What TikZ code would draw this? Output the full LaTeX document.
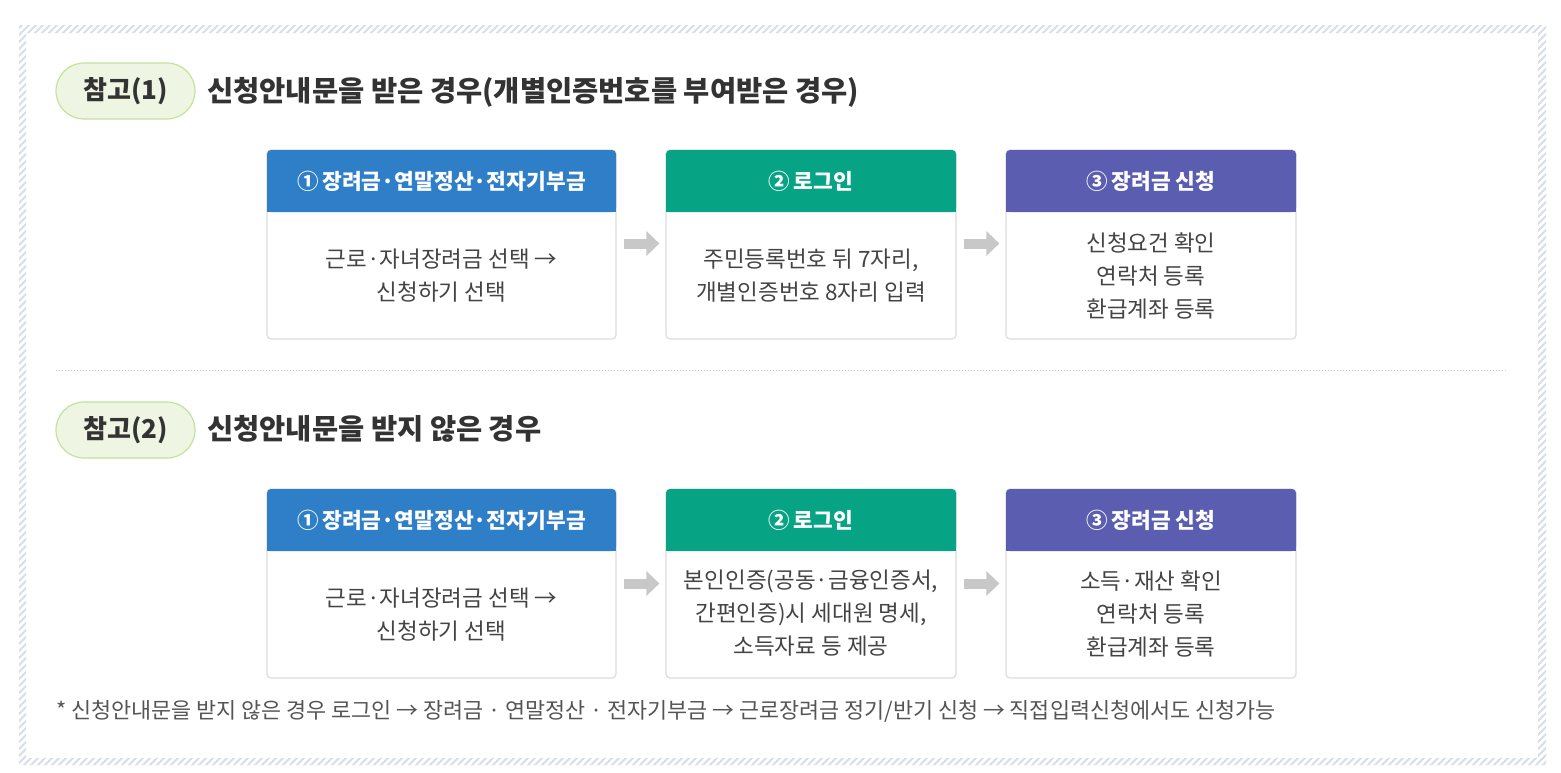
\documentclass[tikz,border=0pt]{standalone}
\usepackage{fontspec}
\setmainfont{Noto Sans CJK KR}
\usetikzlibrary{arrows.meta}
\definecolor{hatchc}{HTML}{D9DDE8}
\definecolor{hblue}{HTML}{2E7EC8}
\definecolor{hgreen}{HTML}{06A384}
\definecolor{hpurple}{HTML}{5A5DB0}
\definecolor{boxgray}{HTML}{DCDCDC}
\definecolor{txtgray}{HTML}{444444}
\definecolor{titlec}{HTML}{333333}
\definecolor{notec}{HTML}{555555}
\definecolor{pillfill}{HTML}{EEF6E3}
\definecolor{pilldraw}{HTML}{C4E29A}
\definecolor{arrowc}{HTML}{C8C8C8}
\definecolor{sepc}{HTML}{CCCCCC}
\tikzset{
  boxout/.style={draw=boxgray, line width=1.2pt, rounded corners=4pt, fill=white, inner sep=0pt},
  hdr/.style={minimum height=62pt, inner sep=0pt, rounded corners=4pt},
  hdrtxt/.style={text=white, inner sep=0pt, font=\bfseries\fontsize{21.5}{24}\selectfont},
  bodytxt/.style={align=center, text=txtgray, font=\fontsize{22.5}{33}\selectfont, inner sep=0pt},
  pill/.style={draw=pilldraw, fill=pillfill, line width=1.2pt, rounded corners=28pt, minimum width=139pt, minimum height=56pt, inner sep=0pt, text=titlec, font=\bfseries\fontsize{26}{30}\selectfont},
  ttl/.style={anchor=west, inner sep=0pt, text=titlec, font=\bfseries\fontsize{28.5}{32}\selectfont},
  flow/.style={arrowc, line width=10pt, -{Triangle[length=13pt,width=24pt]}},
  hatchline/.style={hatchc, line width=2pt}
}
\begin{document}
\begin{tikzpicture}[x=1pt,y=-1pt]
\useasboundingbox (0,0) rectangle (1561,772);
\fill[white] (0,0) rectangle (1561,772);
% hatched frame
\begin{scope}[even odd rule]
\clip (19,25) rectangle (1546,765) (26,33) rectangle (1538,758);
\foreach \i in {-800,-793,...,1560} \draw[hatchline] (\i,770) -- ++(770,-770);
\end{scope}

% ---------- section 1 ----------
\node[pill] (p1) at (125.5,91) {참고(1)};
\node[ttl] (t1) at (207,92) {신청안내문을 받은 경우(개별인증번호를 부여받은 경우)};

\node[boxout, minimum width=349pt, minimum height=189pt] (a1) at (441.5,244.5) {};
\node[boxout, minimum width=290pt, minimum height=189pt] (a2) at (811,244.5) {};
\node[boxout, minimum width=290pt, minimum height=189pt] (a3) at (1151,244.5) {};

\node[hdr, fill=hblue, minimum width=349pt] (ha1) at (441.5,181) {};
\fill[hblue] (267,190) rectangle (616,212);
\node[hdrtxt] (hta1) at (ha1.center) {①\,장려금·연말정산·전자기부금};
\node[hdr, fill=hgreen, minimum width=290pt] (ha2) at (811,181) {};
\fill[hgreen] (666,190) rectangle (956,212);
\node[hdrtxt] (hta2) at (ha2.center) {②\,로그인};
\node[hdr, fill=hpurple, minimum width=290pt] (ha3) at (1151,181) {};
\fill[hpurple] (1006,190) rectangle (1296,212);
\node[hdrtxt] (hta3) at (ha3.center) {③\,장려금 신청};

\node[bodytxt] (ba1) at (441.5,275.5) {근로·자녀장려금 선택 →\\신청하기 선택};
\node[bodytxt] (ba2) at (811,275.5) {주민등록번호 뒤 7자리,\\개별인증번호 8자리 입력};
\node[bodytxt] (ba3) at (1151,275.5) {신청요건 확인\\연락처 등록\\환급계좌 등록};

\draw[flow] ([xshift=7pt,yshift=1pt]a1.east) -- ([xshift=-6pt,yshift=1pt]a2.west);
\draw[flow] ([xshift=7pt,yshift=1pt]a2.east) -- ([xshift=-6pt,yshift=1pt]a3.west);

% separator
\draw[sepc, dotted, line width=1pt] (56,370) -- (1506,370);

% ---------- section 2 ----------
\node[pill] (p2) at (125.5,430) {참고(2)};
\node[ttl] (t2) at (207,429) {신청안내문을 받지 않은 경우};

\node[boxout, minimum width=349pt, minimum height=189pt] (c1) at (441.5,583.5) {};
\node[boxout, minimum width=290pt, minimum height=189pt] (c2) at (811,583.5) {};
\node[boxout, minimum width=290pt, minimum height=189pt] (c3) at (1151,583.5) {};

\node[hdr, fill=hblue, minimum width=349pt] (hc1) at (441.5,520) {};
\fill[hblue] (267,529) rectangle (616,551);
\node[hdrtxt] (htc1) at (hc1.center) {①\,장려금·연말정산·전자기부금};
\node[hdr, fill=hgreen, minimum width=290pt] (hc2) at (811,520) {};
\fill[hgreen] (666,529) rectangle (956,551);
\node[hdrtxt] (htc2) at (hc2.center) {②\,로그인};
\node[hdr, fill=hpurple, minimum width=290pt] (hc3) at (1151,520) {};
\fill[hpurple] (1006,529) rectangle (1296,551);
\node[hdrtxt] (htc3) at (hc3.center) {③\,장려금 신청};

\node[bodytxt] (bc1) at (441.5,614.5) {근로·자녀장려금 선택 →\\신청하기 선택};
\node[bodytxt] (bc2) at (811,613) {본인인증(공동·금융인증서,\\간편인증)시 세대원 명세,\\소득자료 등 제공};
\node[bodytxt] (bc3) at (1151,614) {소득·재산 확인\\연락처 등록\\환급계좌 등록};

\draw[flow] ([xshift=7pt,yshift=0pt]c1.east) -- ([xshift=-6pt,yshift=0pt]c2.west);
\draw[flow] ([xshift=7pt,yshift=0pt]c2.east) -- ([xshift=-6pt,yshift=0pt]c3.west);

% footnote
\node[anchor=west, inner sep=0pt, text=notec, font=\fontsize{21.8}{24}\selectfont] (fn) at (56,711) {* 신청안내문을 받지 않은 경우 로그인 → 장려금 · 연말정산 · 전자기부금 → 근로장려금 정기/반기 신청 → 직접입력신청에서도 신청가능};
\end{tikzpicture}
\end{document}
